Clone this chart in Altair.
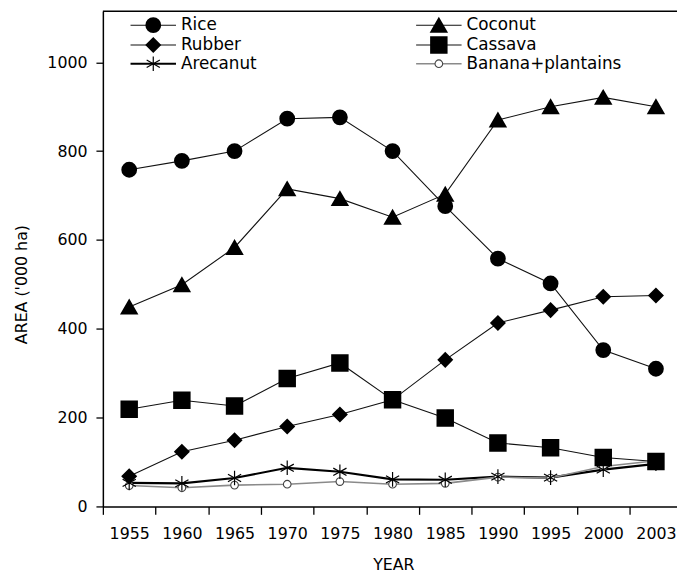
import altair as alt
import pandas as pd

# ---------------- data ----------------
years = ["1955", "1960", "1965", "1970", "1975", "1980", "1985", "1990", "1995", "2000", "2003"]
series_names = ["Rice", "Coconut", "Rubber", "Cassava", "Arecanut", "Banana+plantains"]
rice = [758, 778, 800, 873, 876, 800, 676, 558, 502, 352, 310]
coconut = [449, 499, 583, 715, 693, 651, 703, 870, 900, 921, 900]
rubber = [68, 123, 149, 180, 207, 240, 330, 413, 442, 472, 475]
cassava = [219, 239, 226, 288, 323, 240, 199, 143, 132, 110, 101]
arecanut = [53, 52, 64, 87, 78, 61, 60, 67, 65, 83, 96]
banana = [47, 42, 48, 50, 56, 50, 52, 66, 64, 90, 103]
y_ticks = [0, 200, 400, 600, 800, 1000]

values = {
    "Rice": rice,
    "Coconut": coconut,
    "Rubber": rubber,
    "Cassava": cassava,
    "Arecanut": arecanut,
    "Banana+plantains": banana,
}

rows = []
for s in series_names:
    for i, (yr, v) in enumerate(zip(years, values[s])):
        rows.append({"idx": i, "year": yr, "series": s, "value": v})
df = pd.DataFrame(rows)

# ---------------- layout / style ----------------
W, H = 581, 501
X_MAX = 10.4
BAND = W / (X_MAX + 0.5)
Y_MAX = 1114.6
FONT = "DejaVu Sans"
FS = 16
LEG_FS = 17
ASTERISK = "M0,-1L0,1M-0.9,-0.5L0.9,0.5M-0.9,0.5L0.9,-0.5"

styles = {
    "Rice": dict(point=dict(shape="circle", size=195, filled=True, fill="black", stroke="black"),
                 line=dict(color="#111", strokeWidth=1.1)),
    "Coconut": dict(point=dict(shape="triangle-up", size=230, filled=True, fill="black", stroke="black"),
                    line=dict(color="#111", strokeWidth=1.1)),
    "Rubber": dict(point=dict(shape="diamond", size=180, filled=True, fill="black", stroke="black"),
                   line=dict(color="#111", strokeWidth=1.1)),
    "Cassava": dict(point=dict(shape="square", size=245, filled=True, fill="black", stroke="black"),
                    line=dict(color="#111", strokeWidth=1.1)),
    "Arecanut": dict(point=dict(shape=ASTERISK, size=220, filled=False, stroke="black", strokeWidth=1.2),
                     line=dict(color="black", strokeWidth=2.2)),
    "Banana+plantains": dict(point=dict(shape="circle", size=60, filled=True, fill="white", stroke="#444",
                                        strokeWidth=1.1),
                             line=dict(color="#8a8a8a", strokeWidth=1.6)),
}
point_order = ["Banana+plantains", "Arecanut", "Rubber", "Rice", "Coconut", "Cassava"]

# legend layout (pixel positions inside the plot area)
LEG_COLS = [51, 340]
LEG_ROWS = [14, 34, 53]
LEG_HALF = 23
LEG_TEXT_GAP = 28

label_list = "[" + ",".join("'" + y + "'" for y in years) + "]"

x_enc = alt.X(
    "idx:Q",
    scale=alt.Scale(domain=[-0.5, X_MAX], nice=False, zero=False),
    axis=alt.Axis(
        values=list(range(len(years))),
        labelExpr=label_list + "[datum.value]",
        tickOffset=-BAND / 2,
        labelOffset=BAND / 2,
        tickSize=8,
        tickWidth=1.3,
        tickColor="black",
        domainColor="black",
        domainWidth=1.5,
        labelFont=FONT,
        labelFontSize=FS,
        labelColor="black",
        labelBaseline="middle",
        labelPadding=19,
        labelFlush=False,
        labelOverlap=False,
        labelBound=False,
        grid=False,
        title="YEAR",
        titleFont=FONT,
        titleFontSize=FS,
        titleFontWeight="normal",
        titleColor="black",
        titleX=294,
        titleY=59,
        titleAlign="center",
        titleBaseline="middle",
    ),
)

y_enc = alt.Y(
    "value:Q",
    scale=alt.Scale(domain=[0, Y_MAX], nice=False, zero=True),
    axis=alt.Axis(
        values=y_ticks,
        format="d",
        tickSize=7,
        tickWidth=1.3,
        tickColor="black",
        domainColor="black",
        domainWidth=1.5,
        labelFont=FONT,
        labelFontSize=FS,
        labelColor="black",
        labelPadding=9,
        grid=False,
        title="AREA ('000 ha)",
        titleFont=FONT,
        titleFontSize=FS,
        titleFontWeight="normal",
        titleColor="black",
        titleX=-82,
        titleY=276,
        titleAngle=270,
        titleAlign="center",
        titleBaseline="middle",
    ),
)

base = alt.Chart(df).encode(x=x_enc, y=y_enc)

line_layers = []
for s in series_names:
    st = styles[s]
    sub = base.transform_filter(alt.datum.series == s)
    line_layers.append(sub.mark_line(**st["line"]))

point_layers = []
for s in point_order:
    st = styles[s]
    sub = base.transform_filter(alt.datum.series == s)
    point_layers.append(sub.mark_point(opacity=1, **st["point"]))

# manual legend
legend_layers = []
for k, s in enumerate(series_names):
    col = k % 2
    row = k // 2
    cx = LEG_COLS[col]
    cy = LEG_ROWS[row]
    ldf = pd.DataFrame([{"series": s, "lx": cx, "lx1": cx - LEG_HALF, "lx2": cx + LEG_HALF,
                         "tx": cx + LEG_TEXT_GAP, "ly": cy}])
    st = styles[s]
    lc = alt.Chart(ldf)
    legend_layers.append(
        lc.mark_rule(color=st["line"]["color"], strokeWidth=st["line"]["strokeWidth"]).encode(
            x=alt.X("lx1:Q", scale=None, axis=None),
            x2="lx2:Q",
            y=alt.Y("ly:Q", scale=None, axis=None),
        )
    )
    legend_layers.append(
        lc.mark_point(opacity=1, **st["point"]).encode(
            x=alt.X("lx:Q", scale=None, axis=None),
            y=alt.Y("ly:Q", scale=None, axis=None),
        )
    )
    legend_layers.append(
        lc.mark_text(align="left", baseline="middle", font=FONT, fontSize=LEG_FS, color="black").encode(
            x=alt.X("tx:Q", scale=None, axis=None),
            y=alt.Y("ly:Q", scale=None, axis=None),
            text="series:N",
        )
    )

top_rule = alt.Chart(pd.DataFrame([{"a": 0}])).mark_rule(color="black", strokeWidth=1.5).encode(
    x=alt.value(0), x2=alt.value(W), y=alt.value(0)
)

chart = (
    alt.layer(*line_layers, *point_layers, *legend_layers, top_rule)
    .properties(
        width=W,
        height=H,
        autosize=alt.AutoSizeParams(type="none"),
        padding={"left": 96, "top": 0, "right": 0, "bottom": 67},
    )
    .configure_view(stroke=None)
)

chart.save("out.html", embed_options={"renderer": "svg", "actions": False})
